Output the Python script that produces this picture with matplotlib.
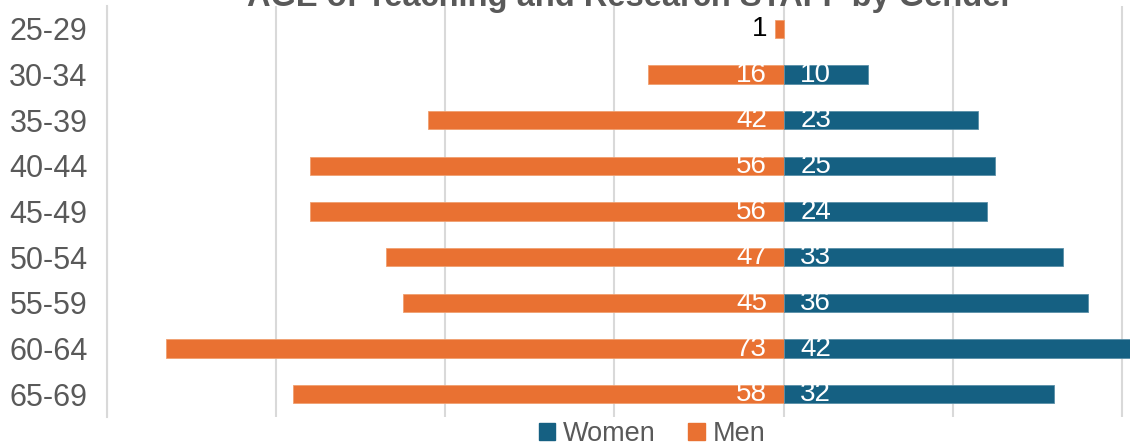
import matplotlib
matplotlib.use("Agg")
import matplotlib.pyplot as plt
from matplotlib.patches import Patch

plt.rcParams["font.family"] = ["Liberation Sans", "DejaVu Sans"]

# data
age_groups = ["25-29", "30-34", "35-39", "40-44", "45-49", "50-54", "55-59", "60-64", "65-69"]
women = [0, 10, 23, 25, 24, 33, 36, 42, 32]
men = [1, 16, 42, 56, 56, 47, 45, 73, 58]

BLUE = "#156082"
ORANGE = "#E97132"
GRID = "#D9D9D9"
TEXT = "#595959"

fig = plt.figure(figsize=(11.3, 4.45), dpi=100)
ax = fig.add_axes([107 / 1130, 1 - 417 / 445, 1 - 107 / 1130, 411 / 445])

y = list(range(len(age_groups)))
ax.barh(y, [-m for m in men], height=0.4, color=ORANGE, edgecolor="#F0A070",
        linewidth=0.6, zorder=3)
ax.barh(y, [w if w else float("nan") for w in women], height=0.4, color=BLUE,
        edgecolor="#5A8FA8", linewidth=0.6, zorder=3)

ax.set_xlim(-80, 40.95)
ax.set_ylim(8.5, -0.5)
ax.set_xticks([-80, -60, -40, -20, 0, 20, 40])
ax.set_xticklabels([])
ax.tick_params(axis="x", length=0)
ax.xaxis.grid(True, color=GRID, linewidth=1.5, zorder=0)
ax.set_yticks(y)
ax.set_yticklabels(age_groups, fontsize=22, color=TEXT)
ax.tick_params(axis="y", length=0, pad=14)
for s in ["top", "right", "bottom"]:
    ax.spines[s].set_visible(False)
ax.spines["left"].set_color(GRID)
ax.spines["left"].set_linewidth(1.5)

for i, m in enumerate(men):
    c = "black" if m < 5 else "white"
    ax.annotate(str(m), (0, i), xytext=(-12, 0), textcoords="offset points",
                ha="right", va="center", fontsize=20, color=c, zorder=4)
for i, w in enumerate(women):
    if w:
        ax.annotate(str(w), (0, i), xytext=(12, 0), textcoords="offset points",
                    ha="left", va="center", fontsize=20, color="white", zorder=4)

fig.text(630 / 1130, 1 - 6 / 445, "AGE of Teaching and Research STAFF by Gender",
         ha="center", va="baseline", fontsize=23.5, fontweight="bold", color=TEXT)

handles = [Patch(color=BLUE, label="Women"), Patch(color=ORANGE, label="Men")]
fig.legend(handles=handles, loc="center", bbox_to_anchor=(652 / 1130, 1 - 434 / 445),
           ncol=2, frameon=False, fontsize=19.5, handlelength=0.6, handleheight=0.6,
           handletextpad=0.3, columnspacing=1.2, labelcolor=TEXT)

fig.savefig("out.png", dpi=100)
